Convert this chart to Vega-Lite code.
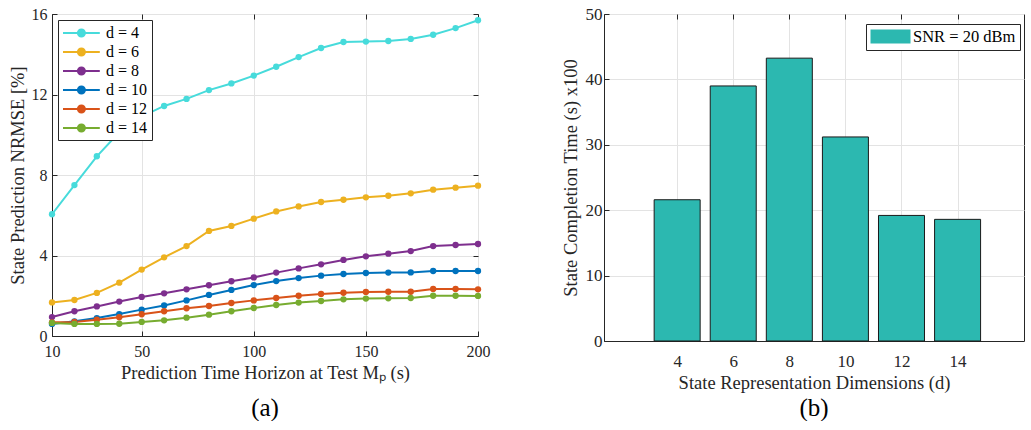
{
  "$schema": "https://vega.github.io/schema/vega-lite/v6.json",
  "background": "white",
  "padding": {"left": 7, "top": 4, "right": 0, "bottom": 0},
  "config": {
    "font": "Liberation Serif",
    "view": {"stroke": "#262626", "strokeWidth": 1},
    "axis": {
      "labelFont": "Liberation Serif", "titleFont": "Liberation Serif",
      "labelFontSize": 16, "titleFontSize": 18.5, "titleFontWeight": "normal",
      "labelColor": "#262626", "titleColor": "#262626",
      "domainColor": "#262626", "tickColor": "#262626",
      "gridColor": "#E3E3E3", "tickSize": -5, "labelFlush": false
    },
    "legend": {"labelFont": "Liberation Serif", "labelFontSize": 16, "labelColor": "#000000"},
    "title": {"font": "Liberation Serif", "fontSize": 25, "fontWeight": "normal", "color": "#000000"}
  },
  "datasets": {
    "lines": [
      {"x":10,"y":6.05,"d":"d = 4"},{"x":20,"y":7.50,"d":"d = 4"},{"x":30,"y":8.93,"d":"d = 4"},{"x":40,"y":10.12,"d":"d = 4"},{"x":50,"y":10.9,"d":"d = 4"},
      {"x":60,"y":11.43,"d":"d = 4"},{"x":70,"y":11.78,"d":"d = 4"},{"x":80,"y":12.22,"d":"d = 4"},{"x":90,"y":12.55,"d":"d = 4"},{"x":100,"y":12.94,"d":"d = 4"},
      {"x":110,"y":13.38,"d":"d = 4"},{"x":120,"y":13.86,"d":"d = 4"},{"x":130,"y":14.31,"d":"d = 4"},{"x":140,"y":14.61,"d":"d = 4"},{"x":150,"y":14.63,"d":"d = 4"},
      {"x":160,"y":14.66,"d":"d = 4"},{"x":170,"y":14.76,"d":"d = 4"},{"x":180,"y":14.97,"d":"d = 4"},{"x":190,"y":15.30,"d":"d = 4"},{"x":200,"y":15.69,"d":"d = 4"},
      {"x":10,"y":1.67,"d":"d = 6"},{"x":20,"y":1.79,"d":"d = 6"},{"x":30,"y":2.14,"d":"d = 6"},{"x":40,"y":2.65,"d":"d = 6"},{"x":50,"y":3.30,"d":"d = 6"},
      {"x":60,"y":3.91,"d":"d = 6"},{"x":70,"y":4.47,"d":"d = 6"},{"x":80,"y":5.22,"d":"d = 6"},{"x":90,"y":5.47,"d":"d = 6"},{"x":100,"y":5.83,"d":"d = 6"},
      {"x":110,"y":6.19,"d":"d = 6"},{"x":120,"y":6.44,"d":"d = 6"},{"x":130,"y":6.66,"d":"d = 6"},{"x":140,"y":6.77,"d":"d = 6"},{"x":150,"y":6.89,"d":"d = 6"},
      {"x":160,"y":6.97,"d":"d = 6"},{"x":170,"y":7.09,"d":"d = 6"},{"x":180,"y":7.27,"d":"d = 6"},{"x":190,"y":7.37,"d":"d = 6"},{"x":200,"y":7.47,"d":"d = 6"},
      {"x":10,"y":0.94,"d":"d = 8"},{"x":20,"y":1.23,"d":"d = 8"},{"x":30,"y":1.47,"d":"d = 8"},{"x":40,"y":1.71,"d":"d = 8"},{"x":50,"y":1.94,"d":"d = 8"},
      {"x":60,"y":2.12,"d":"d = 8"},{"x":70,"y":2.32,"d":"d = 8"},{"x":80,"y":2.52,"d":"d = 8"},{"x":90,"y":2.72,"d":"d = 8"},{"x":100,"y":2.91,"d":"d = 8"},
      {"x":110,"y":3.15,"d":"d = 8"},{"x":120,"y":3.36,"d":"d = 8"},{"x":130,"y":3.56,"d":"d = 8"},{"x":140,"y":3.78,"d":"d = 8"},{"x":150,"y":3.96,"d":"d = 8"},
      {"x":160,"y":4.09,"d":"d = 8"},{"x":170,"y":4.22,"d":"d = 8"},{"x":180,"y":4.47,"d":"d = 8"},{"x":190,"y":4.52,"d":"d = 8"},{"x":200,"y":4.57,"d":"d = 8"},
      {"x":10,"y":0.60,"d":"d = 10"},{"x":20,"y":0.73,"d":"d = 10"},{"x":30,"y":0.89,"d":"d = 10"},{"x":40,"y":1.09,"d":"d = 10"},{"x":50,"y":1.31,"d":"d = 10"},
      {"x":60,"y":1.52,"d":"d = 10"},{"x":70,"y":1.77,"d":"d = 10"},{"x":80,"y":2.04,"d":"d = 10"},{"x":90,"y":2.29,"d":"d = 10"},{"x":100,"y":2.53,"d":"d = 10"},
      {"x":110,"y":2.73,"d":"d = 10"},{"x":120,"y":2.88,"d":"d = 10"},{"x":130,"y":3.00,"d":"d = 10"},{"x":140,"y":3.08,"d":"d = 10"},{"x":150,"y":3.13,"d":"d = 10"},
      {"x":160,"y":3.15,"d":"d = 10"},{"x":170,"y":3.16,"d":"d = 10"},{"x":180,"y":3.23,"d":"d = 10"},{"x":190,"y":3.23,"d":"d = 10"},{"x":200,"y":3.23,"d":"d = 10"},
      {"x":10,"y":0.68,"d":"d = 12"},{"x":20,"y":0.70,"d":"d = 12"},{"x":30,"y":0.81,"d":"d = 12"},{"x":40,"y":0.93,"d":"d = 12"},{"x":50,"y":1.08,"d":"d = 12"},
      {"x":60,"y":1.23,"d":"d = 12"},{"x":70,"y":1.38,"d":"d = 12"},{"x":80,"y":1.49,"d":"d = 12"},{"x":90,"y":1.64,"d":"d = 12"},{"x":100,"y":1.77,"d":"d = 12"},
      {"x":110,"y":1.89,"d":"d = 12"},{"x":120,"y":2.00,"d":"d = 12"},{"x":130,"y":2.09,"d":"d = 12"},{"x":140,"y":2.15,"d":"d = 12"},{"x":150,"y":2.19,"d":"d = 12"},
      {"x":160,"y":2.20,"d":"d = 12"},{"x":170,"y":2.20,"d":"d = 12"},{"x":180,"y":2.34,"d":"d = 12"},{"x":190,"y":2.34,"d":"d = 12"},{"x":200,"y":2.32,"d":"d = 12"},
      {"x":10,"y":0.65,"d":"d = 14"},{"x":20,"y":0.60,"d":"d = 14"},{"x":30,"y":0.60,"d":"d = 14"},{"x":40,"y":0.61,"d":"d = 14"},{"x":50,"y":0.70,"d":"d = 14"},
      {"x":60,"y":0.78,"d":"d = 14"},{"x":70,"y":0.91,"d":"d = 14"},{"x":80,"y":1.06,"d":"d = 14"},{"x":90,"y":1.23,"d":"d = 14"},{"x":100,"y":1.39,"d":"d = 14"},
      {"x":110,"y":1.54,"d":"d = 14"},{"x":120,"y":1.66,"d":"d = 14"},{"x":130,"y":1.74,"d":"d = 14"},{"x":140,"y":1.82,"d":"d = 14"},{"x":150,"y":1.86,"d":"d = 14"},
      {"x":160,"y":1.87,"d":"d = 14"},{"x":170,"y":1.89,"d":"d = 14"},{"x":180,"y":2.00,"d":"d = 14"},{"x":190,"y":2.00,"d":"d = 14"},{"x":200,"y":1.99,"d":"d = 14"}
    ],
    "bars": [
      {"d":4,"t":21.6,"series":"SNR = 20 dBm"},
      {"d":6,"t":39.0,"series":"SNR = 20 dBm"},
      {"d":8,"t":43.25,"series":"SNR = 20 dBm"},
      {"d":10,"t":31.2,"series":"SNR = 20 dBm"},
      {"d":12,"t":19.2,"series":"SNR = 20 dBm"},
      {"d":14,"t":18.6,"series":"SNR = 20 dBm"}
    ]
  },
  "spacing": 69,
  "hconcat": [
    {
      "width": 426, "height": 322,
      "title": {"text": "(a)", "orient": "bottom", "offset": 14},
      "data": {"name": "lines"},
      "layer": [
        {
          "mark": {"type": "line", "strokeWidth": 2},
          "encoding": {
            "x": {"field": "x", "type": "quantitative", "scale": {"domain": [10, 200], "nice": false, "zero": false},
                  "axis": {"values": [10, 50, 100, 150, 200], "title": "Prediction Time Horizon at Test Mₚ (s)", "grid": true, "labelPadding": 12, "titlePadding": 4}},
            "y": {"field": "y", "type": "quantitative", "scale": {"domain": [0, 16], "nice": false},
                  "axis": {"values": [0, 4, 8, 12, 16], "title": "State Prediction NRMSE [%]", "grid": true, "labelPadding": 10, "titlePadding": 4}},
            "color": {"field": "d", "type": "nominal",
                      "scale": {"domain": ["d = 4", "d = 6", "d = 8", "d = 10", "d = 12", "d = 14", "SNR = 20 dBm"],
                                "range": ["#47DBDB", "#EDB120", "#7E2F8E", "#0072BD", "#D95319", "#77AC30", "#2CB8B0"]},
                      "legend": {"values": ["d = 4", "d = 6", "d = 8", "d = 10", "d = 12", "d = 14"], "title": null,
                                 "orient": "top-left", "offset": 6, "padding": 4, "rowPadding": 2,
                                 "strokeColor": "#262626", "fillColor": "white",
                                 "symbolType": "M-1,0L3.6,0M1.74,0A0.44,0.44,0,1,1,0.86,0A0.44,0.44,0,1,1,1.74,0Z",
                                 "symbolSize": 256, "symbolStrokeWidth": 2, "labelOffset": 26,
                                 "encode": {"symbols": {"update": {"fill": {"scale": "color", "field": "value"}, "stroke": {"scale": "color", "field": "value"}, "opacity": {"value": 1}}}}}}
          }
        },
        {
          "mark": {"type": "point", "filled": true, "size": 40, "opacity": 1},
          "encoding": {
            "x": {"field": "x", "type": "quantitative",
                  "axis": {"orient": "top", "values": [10, 50, 100, 150, 200], "labels": false, "title": null, "grid": false, "domain": false}},
            "y": {"field": "y", "type": "quantitative",
                  "axis": {"orient": "right", "values": [0, 4, 8, 12, 16], "labels": false, "title": null, "grid": false, "domain": false}},
            "color": {"field": "d", "type": "nominal"}
          }
        }
      ],
      "resolve": {"axis": {"x": "independent", "y": "independent"}}
    },
    {
      "width": 420, "height": 327,
      "title": {"text": "(b)", "orient": "bottom", "offset": 4},
      "data": {"name": "bars"},
      "layer": [
        {
          "mark": {"type": "bar", "size": 46, "stroke": "#1A1A1A", "strokeWidth": 1},
          "encoding": {
            "x": {"field": "d", "type": "quantitative", "scale": {"domain": [1.57, 16.19], "nice": false, "zero": false},
                  "axis": {"values": [4, 6, 8, 10, 12, 14], "title": "State Representation Dimensions (d)", "grid": true, "labelFontSize": 17, "labelPadding": 17, "titlePadding": 4}},
            "y": {"field": "t", "type": "quantitative", "scale": {"domain": [0, 50], "nice": false},
                  "axis": {"values": [0, 10, 20, 30, 40, 50], "title": "State Completion Time (s) x100", "grid": true, "labelFontSize": 17, "labelPadding": 7, "titlePadding": 5}},
            "color": {"field": "series", "type": "nominal",
                      "scale": {"domain": ["d = 4", "d = 6", "d = 8", "d = 10", "d = 12", "d = 14", "SNR = 20 dBm"],
                                "range": ["#47DBDB", "#EDB120", "#7E2F8E", "#0072BD", "#D95319", "#77AC30", "#2CB8B0"]},
                      "legend": {"values": ["SNR = 20 dBm"], "title": null, "orient": "none", "legendX": 262, "legendY": 10,
                                 "padding": 4, "strokeColor": "#262626", "fillColor": "white",
                                 "symbolType": "M-1,-0.875L4,-0.875L4,0.875L-1,0.875Z",
                                 "symbolSize": 256, "symbolStrokeWidth": 1, "symbolStrokeColor": "#1A1A1A", "labelOffset": 26, "labelFontSize": 16.5,
                                 "encode": {"symbols": {"update": {"fill": {"scale": "color", "field": "value"}, "opacity": {"value": 1}}}}}}
          }
        },
        {
          "mark": {"type": "bar", "size": 46, "opacity": 0},
          "encoding": {
            "x": {"field": "d", "type": "quantitative",
                  "axis": {"orient": "top", "values": [4, 6, 8, 10, 12, 14], "labels": false, "title": null, "grid": false, "domain": false}},
            "y": {"field": "t", "type": "quantitative"}
          }
        }
      ],
      "resolve": {"axis": {"x": "independent"}}
    }
  ],
  "resolve": {"legend": {"color": "independent"}}
}
